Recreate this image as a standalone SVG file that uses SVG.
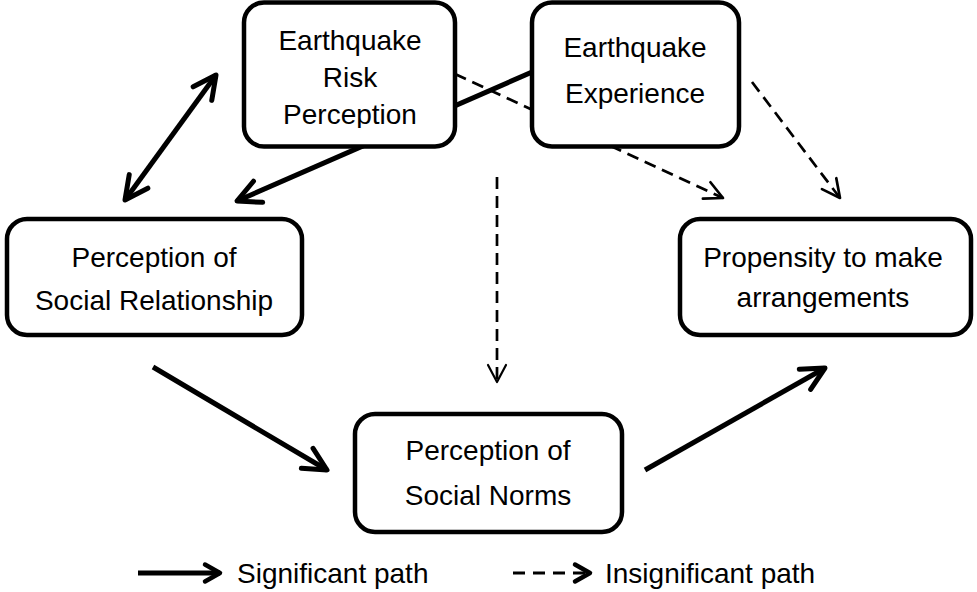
<svg xmlns="http://www.w3.org/2000/svg" width="977" height="592" viewBox="0 0 977 592">
<style>
.box{fill:#fff;stroke:#000;stroke-width:4.5}
.t{font-family:"Liberation Sans",Arial,sans-serif;font-size:28px;fill:#000;text-anchor:middle}
.lt{font-family:"Liberation Sans",Arial,sans-serif;font-size:28px;fill:#000;text-anchor:start}
.sol{stroke:#000;stroke-width:5;fill:none}
.das{stroke:#000;stroke-width:2.7;fill:none;stroke-dasharray:12 7}
.hd{fill:none;stroke:#000;stroke-linecap:round;stroke-linejoin:round}
</style>
<defs>
<marker id="hs" markerUnits="userSpaceOnUse" orient="auto-start-reverse" markerWidth="1" markerHeight="1" overflow="visible" refX="0" refY="0"><path class="hd" d="M-23,-11.5 L0,0 L-23,11.5" stroke-width="5"/></marker>
<marker id="hd" markerUnits="userSpaceOnUse" orient="auto" markerWidth="1" markerHeight="1" overflow="visible" refX="0" refY="0"><path class="hd" d="M-18,-9 L0,0 L-18,9" stroke-width="2.7"/></marker>
<marker id="hv" markerUnits="userSpaceOnUse" orient="auto" markerWidth="1" markerHeight="1" overflow="visible" refX="0" refY="0"><path class="hd" d="M-17,-9 L0,0 L-17,9" stroke-width="2.2"/></marker>
<marker id="hl" markerUnits="userSpaceOnUse" orient="auto" markerWidth="1" markerHeight="1" overflow="visible" refX="0" refY="0"><path class="hd" d="M-15,-8.5 L0,0 L-15,8.5" stroke-width="4.5"/></marker>
<clipPath id="clipRisk"><rect x="244" y="0" width="212" height="128"/></clipPath>
</defs>
<g id="connectors">
<path class="sol" d="M125,200 L216,75" marker-start="url(#hs)" marker-end="url(#hs)"/>
<path class="sol" d="M570,55.5 L237,201" marker-end="url(#hs)"/>
<path class="das" d="M455,74 L723,198" marker-end="url(#hd)"/>
<path class="das" d="M752,82 L840,198" marker-end="url(#hd)"/>
<path class="das" d="M497,177 L497,382" marker-end="url(#hv)"/>
<path class="sol" d="M153,367 L327,470" marker-end="url(#hs)"/>
<path class="sol" d="M645,470 L825,368" marker-end="url(#hs)"/>
</g>
<g id="risk">
<rect class="box" x="244" y="2.5" width="211" height="144" rx="20"/>
<g clip-path="url(#clipRisk)">
<text class="t" x="350" y="50">Earthquake</text>
<text class="t" x="350" y="87">Risk</text>
<text class="t" x="350" y="124">Perception</text>
</g>
</g>
<g id="experience">
<rect class="box" x="532" y="2.5" width="207" height="144" rx="20"/>
<text class="t" x="635" y="57">Earthquake</text>
<text class="t" x="635" y="103">Experience</text>
</g>
<g id="relationship">
<rect class="box" x="7" y="219" width="295" height="116" rx="20"/>
<text class="t" x="154" y="267">Perception of</text>
<text class="t" x="154" y="310">Social Relationship</text>
</g>
<g id="propensity">
<rect class="box" x="680" y="219" width="291" height="116" rx="20"/>
<text class="t" x="823" y="267">Propensity to make</text>
<text class="t" x="823" y="307">arrangements</text>
</g>
<g id="norms">
<rect class="box" x="355" y="414" width="267" height="118" rx="20"/>
<text class="t" x="488" y="460">Perception of</text>
<text class="t" x="488" y="505">Social Norms</text>
</g>
<g id="legend">
<path class="sol" d="M138,573 L220,573" stroke-width="4.5" marker-end="url(#hl)"/>
<text class="lt" x="237" y="583">Significant path</text>
<path d="M513,573 L590,573" stroke="#000" stroke-width="3.2" fill="none" stroke-dasharray="12 8" marker-end="url(#hl)"/>
<text class="lt" x="605" y="583">Insignificant path</text>
</g>
</svg>
